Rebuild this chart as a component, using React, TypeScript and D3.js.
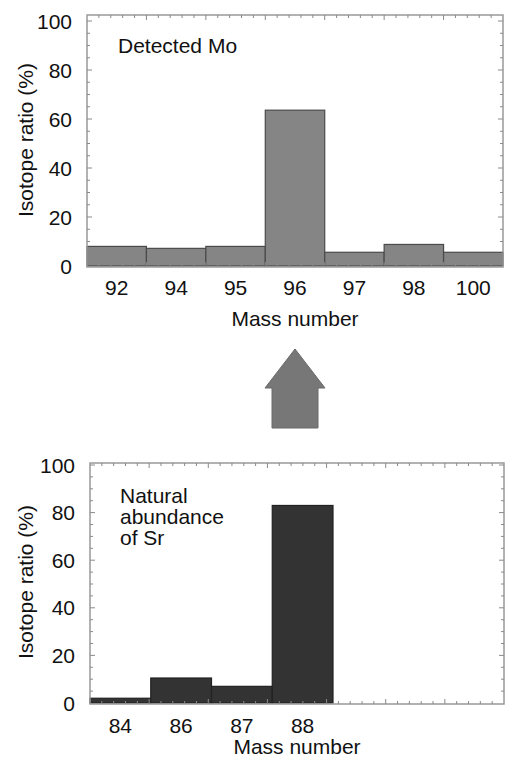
import React from "react";
import * as d3 from "d3";

const moMass = ["92", "94", "95", "96", "97", "98", "100"];
const moRatio = [8, 7.2, 8, 63.6, 5.6, 8.8, 5.6];
const srMass = ["84", "86", "87", "88"];
const srRatio = [2, 10.5, 7, 83];
const yTicks = [0, 20, 40, 60, 80, 100];
const yLabel = "Isotope ratio (%)";
const xLabel = "Mass number";

const FONT = "'Liberation Sans', Arial, Helvetica, sans-serif";
const FS = 21;

type PanelProps = {
  cats: string[];
  vals: number[];
  left: number;
  right: number;
  barsRight: number;
  y0: number;
  y100: number;
  frameTop: number;
  fill: string;
  stroke: string;
  labelLines: string[];
  labelX: number;
  labelY: number;
  tickLabelY: number;
  titleY: number;
  yTitleY: number;
};

function Panel(p: PanelProps) {
  const x = d3.scaleBand<string>().domain(p.cats).range([p.left, p.barsRight]).padding(0);
  const y = d3.scaleLinear().domain([0, 100]).range([p.y0, p.y100]);
  const frameBottom = p.y0 + 1;
  const nMinor = Math.round((p.right - p.left) / 11.9);
  const minorX = d3.scaleLinear().domain([0, nMinor]).range([p.left, p.right]);
  const xMinor = d3.range(1, nMinor);
  const yMinor = d3.range(5, 101, 5);
  const tickColor = "#8a8a8a";
  return (
    <g>
      {p.vals.map((v, i) => (
        <rect
          key={i}
          x={x(p.cats[i])!}
          y={y(v)}
          width={x.bandwidth()}
          height={y(0) - y(v)}
          fill={p.fill}
          stroke={p.stroke}
          strokeWidth={1.2}
        />
      ))}
      <rect
        x={p.left}
        y={p.frameTop}
        width={p.right - p.left}
        height={frameBottom - p.frameTop}
        fill="none"
        stroke="#999"
        strokeWidth={1.5}
      />
      {xMinor.map((t) => {
        const len = t % 5 === 0 ? 5 : 3;
        const xx = minorX(t);
        return (
          <g key={"xt" + t}>
            <line x1={xx} x2={xx} y1={p.frameTop} y2={p.frameTop + len} stroke={tickColor} strokeWidth={1} />
            <line x1={xx} x2={xx} y1={frameBottom} y2={frameBottom - len} stroke={tickColor} strokeWidth={1} />
          </g>
        );
      })}
      {yMinor.map((t) => {
        const len = t % 20 === 0 ? 5 : 3;
        const yy = y(t);
        return (
          <g key={"yt" + t}>
            <line x1={p.left} x2={p.left + len} y1={yy} y2={yy} stroke={tickColor} strokeWidth={1} />
            <line x1={p.right} x2={p.right - len} y1={yy} y2={yy} stroke={tickColor} strokeWidth={1} />
          </g>
        );
      })}
      {yTicks.map((t) => (
        <text
          key={"yl" + t}
          x={p.left - 15}
          y={y(t)}
          textAnchor="end"
          dominantBaseline="central"
          fontSize={FS}
          fontFamily={FONT}
          fill="#111"
        >
          {t}
        </text>
      ))}
      {p.cats.map((c) => (
        <text
          key={"xl" + c}
          x={x(c)! + x.bandwidth() / 2}
          y={p.tickLabelY}
          textAnchor="middle"
          dominantBaseline="central"
          fontSize={FS}
          fontFamily={FONT}
          fill="#111"
        >
          {c}
        </text>
      ))}
      <text
        x={(p.left + p.right) / 2}
        y={p.titleY}
        textAnchor="middle"
        dominantBaseline="central"
        fontSize={FS}
        fontFamily={FONT}
        fill="#111"
      >
        {xLabel}
      </text>
      <text
        transform={`translate(25,${p.yTitleY}) rotate(-90)`}
        textAnchor="middle"
        dominantBaseline="central"
        fontSize={FS}
        fontFamily={FONT}
        fill="#111"
      >
        {yLabel}
      </text>
      {p.labelLines.map((l, i) => (
        <text
          key={"lab" + i}
          x={p.labelX}
          y={p.labelY + i * 21}
          dominantBaseline="central"
          fontSize={FS}
          fontFamily={FONT}
          fill="#111"
        >
          {l}
        </text>
      ))}
    </g>
  );
}

export default function App() {
  const arrow = d3.path();
  arrow.moveTo(295, 349);
  arrow.lineTo(325, 388);
  arrow.lineTo(318, 388);
  arrow.lineTo(318, 428);
  arrow.lineTo(272, 428);
  arrow.lineTo(272, 388);
  arrow.lineTo(265, 388);
  arrow.closePath();
  return (
    <svg
      width={506}
      height={760}
      style={{ position: "absolute", left: 0, top: 0, background: "#fff" }}
    >
      <rect x={0} y={0} width={506} height={760} fill="#fff" />
      <Panel
        cats={moMass}
        vals={moRatio}
        left={87}
        right={503}
        barsRight={503}
        y0={266}
        y100={21}
        frameTop={15}
        fill="#858585"
        stroke="#4a4a4a"
        labelLines={["Detected Mo"]}
        labelX={118}
        labelY={45}
        tickLabelY={287}
        titleY={318}
        yTitleY={140}
      />
      <path d={arrow.toString()} fill="#777" stroke="#6a6a6a" strokeWidth={1} />
      <Panel
        cats={srMass}
        vals={srRatio}
        left={90}
        right={504}
        barsRight={333}
        y0={703}
        y100={465}
        frameTop={463}
        fill="#333"
        stroke="#222"
        labelLines={["Natural", "abundance", "of Sr"]}
        labelX={120}
        labelY={495}
        tickLabelY={725}
        titleY={746}
        yTitleY={582}
      />
    </svg>
  );
}
